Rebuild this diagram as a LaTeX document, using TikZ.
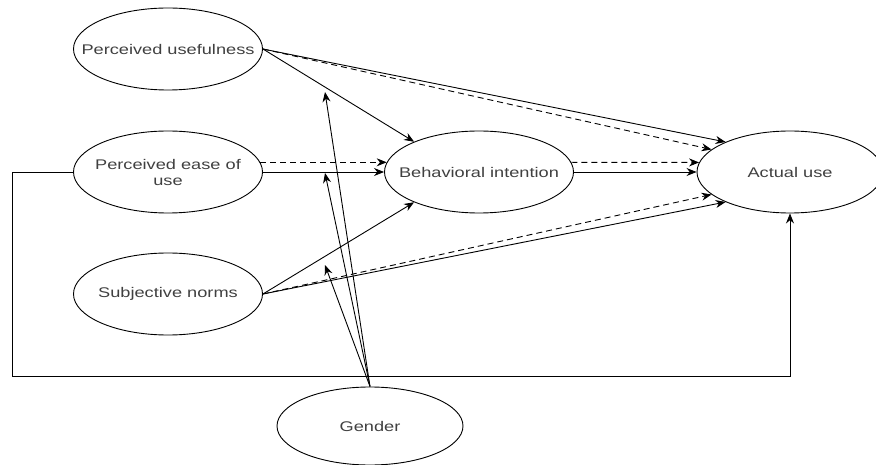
\documentclass[tikz,border=0pt]{standalone}
\usepackage{fontspec}
\setmainfont{Liberation Sans}[FakeStretch=1.3]
\usetikzlibrary{shapes.geometric,arrows.meta}
\definecolor{txtgray}{HTML}{404040}

\begin{document}
\begin{tikzpicture}[x=1pt,y=-1pt,line width=0.9pt,>={Stealth[length=10pt,width=8pt]}]
        \tikzstyle{factor} = [ellipse, draw, inner xsep=-30pt, inner ysep=0pt, minimum width=189pt, minimum height=82pt, align=center, text=txtgray, font=\fontsize{14}{16}\selectfont]
        \tikzstyle{dashedarrow} = [->, dash pattern=on 6pt off 4pt]
        \useasboundingbox (0,0) rectangle (876,465);
        \node[factor] (pu) at (168,49) {Perceived usefulness};
        \node[factor] (pe) at (168,172) {Perceived ease of\\use};
        \node[factor] (sn) at (168,294) {Subjective norms};
        \node[factor] (bi) at (479,172) {Behavioral intention};
        \node[factor, minimum width=186pt] (au) at (790,172) {Actual use};
        \node[factor, minimum width=186pt, minimum height=78pt] (gd) at (370,426) {Gender};

        % moderation targets
        \coordinate (m1) at (325,92);
        \coordinate (m2) at (325,173);
        \coordinate (m3) at (325,265);

        \foreach \from/\to in {pu.east/bi.155, pu.east/au.155, pe.east/bi.west, sn.east/bi.205, sn.east/au.205, bi.east/au.west}
            \draw[->] (\from) -- (\to);
        \foreach \from/\to in {pu.east/au.164, pe.6/bi.174, sn.east/au.196, bi.6/au.174}
            \draw[dashedarrow] (\from) -- (\to);

        \draw[->] (pe.west) -| (12,376) -| (au.south);

        \foreach \to in {m1, m2, m3}
            \draw[->] (gd.north) -- (\to);
\end{tikzpicture}
\end{document}
